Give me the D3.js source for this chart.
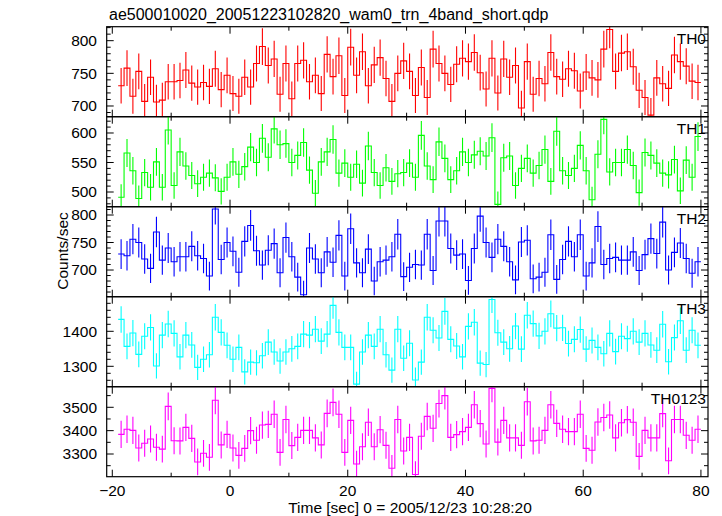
<!DOCTYPE html>
<html><head><meta charset="utf-8">
<script src="https://cdn.jsdelivr.net/npm/d3@7/dist/d3.min.js"></script>
<style>html,body{margin:0;padding:0;background:#fff}svg{display:block}</style>
</head><body>
<script>
// ---------- data ----------
const title = "ae500010020_20051223102820_wam0_trn_4band_short.qdp";
const xLabel = "Time [sec] 0 = 2005/12/23 10:28:20";
const yLabel = "Counts/sec";
const panelNames = ["TH0", "TH1", "TH2", "TH3", "TH0123"];
const binStart = -19;   // left edge of first bin (sec)
const binWidth = 1;     // sec
const xTicks = [-20, 0, 20, 40, 60, 80];
const xMinorTicks = [-10, 10, 30, 50, 70];

const th0 = [731,758,715,753,707,744,706,709,737,737,739,755,735,729,736,730,757,725,747,719,
  715,744,729,765,791,762,772,718,765,711,765,770,737,747,719,779,745,777,716,790,
  747,783,731,763,774,742,707,750,769,753,716,759,713,787,765,750,733,764,773,768,
  782,751,726,773,720,772,744,762,697,768,718,742,734,782,745,741,757,754,723,752,
  743,740,787,817,753,781,783,760,724,713,686,743,734,727,778,768,761,738,736];
const th1 = [491,566,536,489,533,508,551,508,605,511,568,544,528,514,525,532,524,501,525,551,
  530,543,576,550,591,559,607,580,582,550,562,584,537,498,551,568,589,532,549,525,
  547,515,578,533,511,541,518,531,533,549,525,596,544,521,585,557,521,536,568,550,
  563,569,561,592,479,558,561,511,540,557,532,545,572,518,603,536,528,540,579,536,
  487,564,623,534,550,550,572,545,499,567,562,549,532,529,555,502,554,525,594];
const th2 = [729,726,756,750,720,703,769,718,740,715,724,724,743,726,721,689,811,719,750,734,
  696,752,781,735,709,736,748,695,759,724,687,655,740,720,695,733,714,763,689,775,
  713,695,738,680,715,718,724,765,688,705,710,709,765,699,789,789,739,727,729,681,
  739,798,750,723,756,743,715,682,751,754,684,687,696,764,683,719,752,724,764,689,
  713,779,710,721,723,718,718,733,699,728,757,730,787,700,732,749,721,694,715];
const th3 = [1434,1357,1395,1334,1386,1411,1301,1389,1421,1394,1327,1389,1361,1297,1320,1333,1440,1397,1360,1320,
  1354,1284,1312,1310,1330,1369,1341,1315,1341,1350,1357,1392,1389,1406,1372,1392,1474,1397,1354,1354,
  1249,1341,1389,1357,1406,1333,1289,1406,1323,1366,1261,1312,1440,1403,1381,1457,1377,1358,1327,1414,
  1426,1309,1305,1491,1396,1369,1350,1415,1349,1446,1422,1387,1400,1450,1409,1410,1365,1377,1405,1349,
  1374,1354,1336,1394,1342,1386,1379,1400,1369,1394,1361,1346,1420,1313,1382,1430,1346,1403,1360];
const th0123 = [3384,3406,3401,3326,3346,3364,3329,3321,3504,3357,3356,3414,3367,3266,3303,3286,3530,3339,3384,3326,
  3294,3324,3400,3359,3424,3427,3470,3307,3448,3336,3371,3401,3401,3369,3339,3474,3521,3470,3307,3444,
  3257,3331,3436,3331,3404,3337,3239,3448,3313,3371,3212,3376,3461,3410,3516,3550,3371,3383,3396,3414,
  3511,3430,3343,3581,3351,3444,3369,3369,3337,3524,3356,3359,3401,3511,3431,3406,3396,3396,3470,3324,
  3316,3437,3456,3467,3369,3434,3447,3436,3290,3401,3369,3369,3473,3271,3448,3448,3380,3359,3406];
const series = [th0, th1, th2, th3, th0123];
const colors = ["#ff0000", "#00ff00", "#0000ff", "#00ffff", "#ff00ff"];
const yDomains = [[683.6, 821.4], [475.1, 627.6], [651.5, 815.1], [1241.7, 1498.9], [3202.8, 3588.2]];
const yMajorTicks = [[700, 750, 800], [500, 550, 600], [700, 750, 800], [1300, 1400], [3300, 3400, 3500]];
const yMinorStep = [10, 10, 10, 20, 50];

// ---------- layout ----------
const W = 722, H = 516;
const left = 106.7, right = 708, top0 = 26.7, panelH = 90;
const font = "'Liberation Sans', Arial, Helvetica, sans-serif";
const fs = 15.5;

const svg = d3.select("body").append("svg").attr("width", W).attr("height", H)
  .style("font-family", font);

const x = d3.scaleLinear().domain([-20.95, 81.2]).range([left, right]);

svg.append("text").attr("x", 109).attr("y", 20).attr("font-size", 16)
  .attr("fill", "#000").text(title);

series.forEach((vals, k) => {
  const t = top0 + k * panelH, b = t + panelH;
  const y = d3.scaleLinear().domain(yDomains[k]).range([b, t]);
  const g = svg.append("g");
  const clipId = "clip" + k;
  svg.append("clipPath").attr("id", clipId).append("rect")
    .attr("x", left).attr("y", t).attr("width", right - left).attr("height", panelH);
  const data = vals.map((v, i) => ({ x0: binStart + i * binWidth, x1: binStart + (i + 1) * binWidth, v }));
  const pts = [];
  data.forEach(d => { pts.push([d.x0, d.v]); pts.push([d.x1, d.v]); });
  const dg = g.append("g").attr("clip-path", `url(#${clipId})`);
  dg.selectAll("line.err").data(data).enter().append("line")
    .attr("x1", d => x((d.x0 + d.x1) / 2)).attr("x2", d => x((d.x0 + d.x1) / 2))
    .attr("y1", d => y(d.v - Math.sqrt(d.v))).attr("y2", d => y(d.v + Math.sqrt(d.v)))
    .attr("stroke", colors[k]).attr("stroke-width", 1.1);
  dg.append("path").datum(pts)
    .attr("d", d3.line().x(p => x(p[0])).y(p => y(p[1])))
    .attr("fill", "none").attr("stroke", colors[k]).attr("stroke-width", 1.1);

  // frame
  g.append("rect").attr("x", left).attr("y", t).attr("width", right - left).attr("height", panelH)
    .attr("fill", "none").attr("stroke", "#000").attr("stroke-width", 1.2);

  // x ticks top & bottom
  const tk = g.append("g").attr("stroke", "#000").attr("stroke-width", 1);
  xTicks.forEach(v => {
    tk.append("line").attr("x1", x(v)).attr("x2", x(v)).attr("y1", b).attr("y2", b - 7);
    tk.append("line").attr("x1", x(v)).attr("x2", x(v)).attr("y1", t).attr("y2", t + 7);
  });
  xMinorTicks.forEach(v => {
    tk.append("line").attr("x1", x(v)).attr("x2", x(v)).attr("y1", b).attr("y2", b - 4);
    tk.append("line").attr("x1", x(v)).attr("x2", x(v)).attr("y1", t).attr("y2", t + 4);
  });
  // y ticks
  const [d0, d1] = yDomains[k];
  const step = yMinorStep[k];
  for (let v = Math.ceil(d0 / step) * step; v <= d1; v += step) {
    const major = yMajorTicks[k].includes(v);
    const len = major ? 7 : 4;
    tk.append("line").attr("x1", left).attr("x2", left + len).attr("y1", y(v)).attr("y2", y(v));
    tk.append("line").attr("x1", right).attr("x2", right - len).attr("y1", y(v)).attr("y2", y(v));
  }
  // y tick labels
  g.selectAll("text.yt").data(yMajorTicks[k]).enter().append("text")
    .attr("x", 97).attr("y", v => y(v)).attr("dy", "0.35em")
    .attr("text-anchor", "end").attr("font-size", fs).attr("fill", "#000").text(v => v);
  // panel label
  g.append("text").attr("x", 706).attr("y", t + 17).attr("text-anchor", "end")
    .attr("font-size", fs).attr("fill", "#000").text(panelNames[k]);

  if (k === series.length - 1) {
    g.selectAll("text.xt").data(xTicks).enter().append("text")
      .attr("x", v => x(v)).attr("y", b + 19).attr("text-anchor", "middle")
      .attr("font-size", fs).attr("fill", "#000")
      .text(v => v < 0 ? "\u2212" + Math.abs(v) : v);
  }
});

svg.append("text").attr("x", 410).attr("y", 513).attr("text-anchor", "middle")
  .attr("font-size", fs).attr("fill", "#000").text(xLabel);
svg.append("text").attr("transform", "translate(68,251) rotate(-90)").attr("text-anchor", "middle")
  .attr("font-size", fs).attr("fill", "#000").text(yLabel);
</script>
</body></html>
